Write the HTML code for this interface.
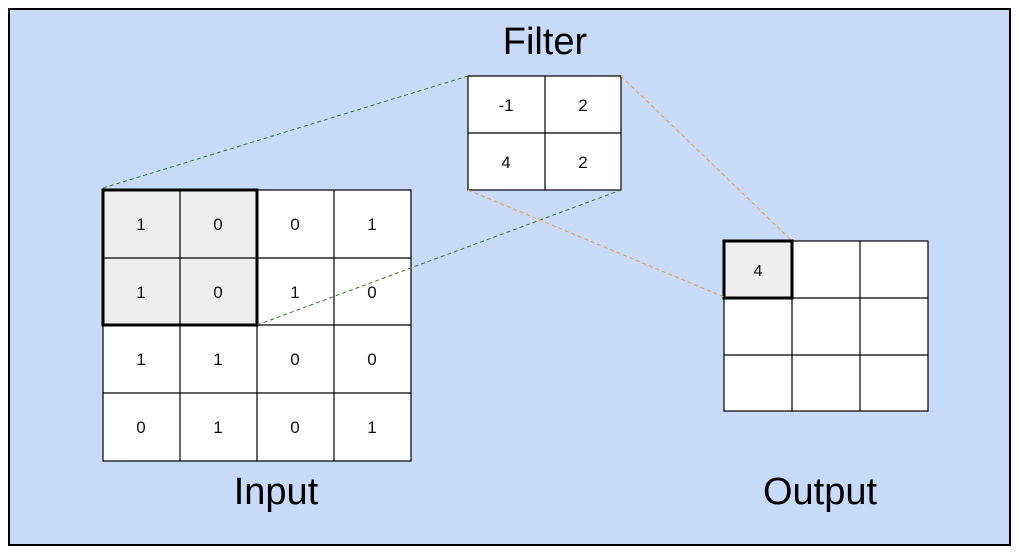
<!DOCTYPE html>
<html><head><style>
body{margin:0;width:1019px;height:553px;background:#fff;overflow:hidden}
</style></head><body>
<svg width="1019" height="553" xmlns="http://www.w3.org/2000/svg" font-family="Liberation Sans, sans-serif">
<rect x="9" y="9" width="1001" height="536" fill="#c7daf7" stroke="#000" stroke-width="2"/>
<g stroke="#000" stroke-width="1.2" fill="#fff">
<rect x="103" y="190" width="308" height="271"/>
<rect x="103" y="190" width="154" height="135" fill="#eeeeee"/>
<line x1="180" y1="190" x2="180" y2="461"/><line x1="257" y1="190" x2="257" y2="461"/><line x1="334" y1="190" x2="334" y2="461"/>
<line x1="103" y1="258" x2="411" y2="258"/><line x1="103" y1="325" x2="411" y2="325"/><line x1="103" y1="393" x2="411" y2="393"/>
<rect x="468" y="76" width="153" height="114"/>
<line x1="545" y1="76" x2="545" y2="190"/><line x1="468" y1="133" x2="621" y2="133"/>
<rect x="724" y="241" width="204" height="170"/>
<rect x="724" y="241" width="68" height="57" fill="#eeeeee"/>
<line x1="792" y1="241" x2="792" y2="411"/><line x1="860" y1="241" x2="860" y2="411"/>
<line x1="724" y1="298" x2="928" y2="298"/><line x1="724" y1="355" x2="928" y2="355"/>
</g>
<rect x="103" y="190" width="154" height="135" fill="none" stroke="#000" stroke-width="3"/>
<rect x="724" y="241" width="68" height="57" fill="none" stroke="#000" stroke-width="3"/>
<g stroke-dasharray="4,3" stroke-width="1">
<line x1="103" y1="188" x2="468" y2="76" stroke="#3a7a2a"/>
<line x1="257" y1="325" x2="621" y2="190" stroke="#3a7a2a"/>
<line x1="621" y1="76" x2="792" y2="241" stroke="#f0a030"/>
<line x1="468" y1="190" x2="724" y2="297" stroke="#f0a030"/>
</g>
<g font-size="17" text-anchor="middle" fill="#111">
<text x="141" y="230">1</text><text x="218" y="230">0</text><text x="295" y="230">0</text><text x="372" y="230">1</text>
<text x="141" y="298">1</text><text x="218" y="298">0</text><text x="295" y="298">1</text><text x="372" y="298">0</text>
<text x="141" y="365">1</text><text x="218" y="365">1</text><text x="295" y="365">0</text><text x="372" y="365">0</text>
<text x="141" y="433">0</text><text x="218" y="433">1</text><text x="295" y="433">0</text><text x="372" y="433">1</text>
<text x="506" y="111">-1</text><text x="583" y="111">2</text>
<text x="506" y="168">4</text><text x="583" y="168">2</text>
<text x="758" y="276" font-size="16">4</text>
</g>
<g font-size="38" text-anchor="middle" fill="#000">
<text x="545" y="54">Filter</text>
<text x="276" y="504">Input</text>
<text x="820" y="504">Output</text>
</g>
</svg>
</body></html>
